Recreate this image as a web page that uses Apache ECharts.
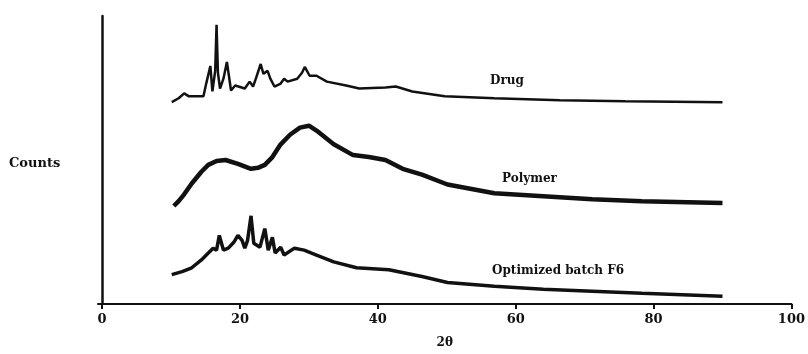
<!DOCTYPE html>
<html>
<head>
<meta charset="utf-8">
<script src="https://cdn.jsdelivr.net/npm/echarts@6/dist/echarts.min.js"></script>
<style>
  html, body { margin: 0; padding: 0; background: #fff; }
  #xrd { width: 808px; height: 354px; }
</style>
</head>
<body>
<div id="xrd"></div>
<script>
// XRD patterns: drug, polymer, optimized batch F6 (stacked, arbitrary counts)
const xTicks = [0, 20, 40, 60, 80, 100];

const drugTheta = [10.1, 11.1, 11.9, 12.6, 14.7, 15.1, 15.7, 16.0, 16.4, 16.6, 16.8, 17.1, 17.6, 18.1, 18.7, 19.3, 20.7, 21.4, 21.9, 22.3, 23.0, 23.4, 24.0, 24.4, 25.0, 25.9, 26.4, 26.9, 28.3, 29.0, 29.4, 30.1, 31.1, 32.6, 35.4, 37.3, 41.1, 42.6, 45.0, 49.7, 56.9, 66.4, 75.9, 90];
const drugCounts = [206, 210, 215, 212, 212, 225, 243, 217, 238, 285, 236, 220, 230, 247, 218, 223, 220, 227, 222, 230, 245, 235, 238, 230, 222, 225, 230, 227, 230, 236, 242, 233, 233, 227, 223, 220, 221, 222, 217, 212, 210, 208, 207, 206];

const polyTheta = [10.4, 11.1, 11.9, 13.0, 14.4, 15.4, 16.6, 17.9, 19.7, 21.6, 22.6, 23.6, 24.7, 25.9, 27.3, 28.7, 30.0, 31.1, 33.6, 36.4, 38.7, 41.1, 43.6, 46.4, 50.1, 56.9, 64.0, 71.1, 78.3, 90];
const polyCounts = [100, 105, 112, 123, 135, 142, 146, 147, 143, 138, 139, 142, 150, 163, 173, 180, 182, 177, 163, 152, 150, 147, 138, 132, 122, 113, 110, 107, 105, 103];

const f6Theta = [10.1, 11.6, 13.0, 14.4, 15.4, 16.1, 16.6, 17.0, 17.6, 18.3, 19.1, 19.7, 20.3, 20.7, 21.1, 21.6, 22.0, 22.9, 23.6, 24.1, 24.7, 25.1, 25.9, 26.4, 27.9, 29.3, 31.1, 33.6, 36.9, 41.6, 46.4, 50.1, 56.9, 64.0, 71.1, 78.3, 90];
const f6Counts = [30, 33, 37, 45, 52, 57, 55, 70, 55, 57, 63, 70, 65, 57, 65, 90, 62, 58, 77, 55, 68, 52, 58, 50, 57, 55, 50, 43, 37, 35, 28, 22, 18, 15, 13, 11, 8];

const pairs = (xs, ys) => xs.map((x, i) => [x, ys[i]]);

const serifFont = "'DejaVu Serif', 'Liberation Serif', serif";

function makeSeries(name, xs, ys, width) {
  return {
    name: name,
    type: "line",
    data: pairs(xs, ys),
    showSymbol: false,
    smooth: false,
    lineStyle: { color: "#111", width: width },
    itemStyle: { color: "#111" },
  };
}

const option = {
  animation: false,
  backgroundColor: "#fff",
  grid: { left: 98, right: 6, top: 16, bottom: 44 },
  xAxis: {
    type: "value",
    min: -0.6,
    max: 100,
    name: "2θ",
    nameLocation: "middle",
    nameGap: 33,
    nameTextStyle: { fontFamily: serifFont, fontWeight: "bold", fontSize: 12, color: "#111" },
    axisLine: { show: true, onZero: false, lineStyle: { color: "#111", width: 2 } },
    axisTick: { show: true, length: 5, customValues: xTicks, lineStyle: { color: "#111", width: 2 } },
    axisLabel: {
      margin: 9,
      fontFamily: serifFont,
      fontWeight: "bold",
      fontSize: 13,
      color: "#111",
      customValues: xTicks,
    },
    splitLine: { show: false },
  },
  yAxis: {
    type: "value",
    min: 0,
    max: 294,
    axisLine: { show: true, lineStyle: { color: "#111", width: 2.5 } },
    axisTick: { show: false },
    axisLabel: { show: false },
    splitLine: { show: false },
  },
  graphic: [
    { type: "text", left: 9, top: 157, style: { text: "Counts", font: "bold 13px " + serifFont, fill: "#111" } },
    { type: "text", left: 490, top: 75, style: { text: "Drug", font: "bold 12px " + serifFont, fill: "#111" } },
    { type: "text", left: 502, top: 173, style: { text: "Polymer", font: "bold 12px " + serifFont, fill: "#111" } },
    { type: "text", left: 492, top: 265, style: { text: "Optimized batch F6", font: "bold 12px " + serifFont, fill: "#111" } },
  ],
  series: [
    makeSeries("Drug", drugTheta, drugCounts, 2.5),
    makeSeries("Polymer", polyTheta, polyCounts, 4.5),
    makeSeries("Optimized batch F6", f6Theta, f6Counts, 3.5),
  ],
};

const chart = echarts.init(document.getElementById("xrd"));
chart.setOption(option);
window.addEventListener("resize", () => chart.resize());
</script>
</body>
</html>
